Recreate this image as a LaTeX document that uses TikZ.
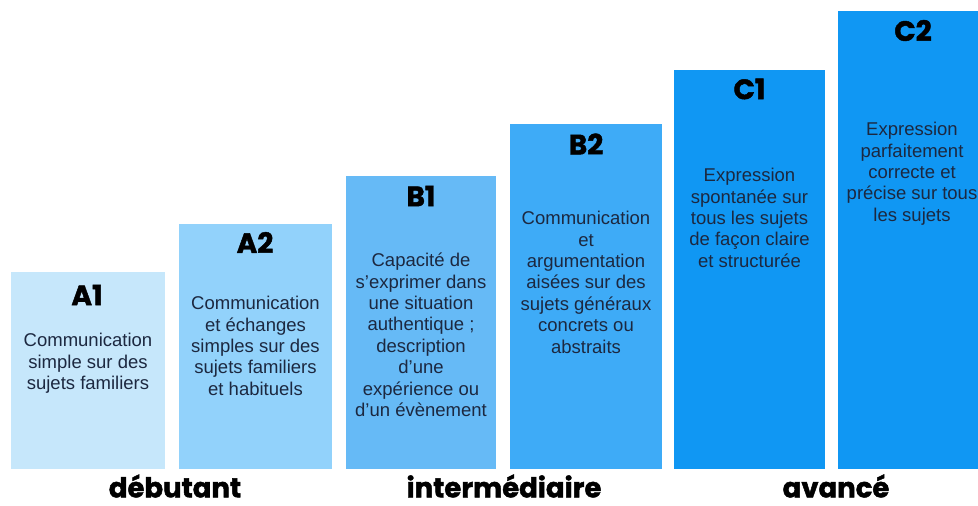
\documentclass[tikz,border=0pt]{standalone}
\usepackage{fontspec}
\setmainfont{Liberation Sans}
\newfontfamily\titlefont{Poppins}[BoldFeatures={FakeBold=1.6}]
\definecolor{cA1}{RGB}{198,231,251}
\definecolor{cA2}{RGB}{146,210,251}
\definecolor{cB1}{RGB}{102,186,246}
\definecolor{cB2}{RGB}{62,171,247}
\definecolor{cC1}{RGB}{16,151,243}
\definecolor{cC2}{RGB}{16,151,243}
\definecolor{txt}{RGB}{28,40,64}
\tikzset{
  levelbox/.style={draw=none, anchor=north west, minimum width=#1, inner sep=0pt},
  leveltitle/.style={font=\titlefont\bfseries\fontsize{28}{28}\selectfont, text=black, inner sep=0pt},
  desc/.style={font=\fontsize{18.5}{21.4}\selectfont, text=txt, align=center, inner sep=0pt},
  group/.style={font=\titlefont\bfseries\fontsize{27.5}{27.5}\selectfont, text=black, inner sep=0pt}
}
\begin{document}
\begin{tikzpicture}[x=1pt,y=-1pt]
\useasboundingbox (0,0) rectangle (978,506);
% boxes
\node[levelbox=154pt, fill=cA1, minimum height=197pt] (bA1) at (11,272) {};
\node[levelbox=153pt, fill=cA2, minimum height=245pt] (bA2) at (179,224) {};
\node[levelbox=150pt, fill=cB1, minimum height=293pt] (bB1) at (346,176) {};
\node[levelbox=152pt, fill=cB2, minimum height=345pt] (bB2) at (510,124) {};
\node[levelbox=151pt, fill=cC1, minimum height=399pt] (bC1) at (674,70) {};
\node[levelbox=152pt, fill=cC2, minimum height=458pt] (bC2) at (838,11) {};
% titles
\node[leveltitle] (tA1) at (87,295) {A1};
\node[leveltitle] (tA2) at (255,242.5) {A2};
\node[leveltitle] (tB1) at (421,196) {B1};
\node[leveltitle] (tB2) at (586,144) {B2};
\node[leveltitle] (tC1) at (749.5,89) {C1};
\node[leveltitle] (tC2) at (913,30.5) {C2};
% descriptions
\node[desc] (dA1) at (88,363.4) {Communication\\simple sur des\\sujets familiers};
\node[desc] (dA2) at (255.5,345.8) {Communication\\et échanges\\simples sur des\\sujets familiers\\et habituels};
\node[desc] (dB1) at (421,334.9) {Capacité de\\s’exprimer dans\\une situation\\authentique ;\\description\\d’une\\expérience ou\\d’un évènement};
\node[desc] (dB2) at (586,282.2) {Communication\\et\\argumentation\\aisées sur des\\sujets généraux\\concrets ou\\abstraits};
\node[desc] (dC1) at (749.5,217.8) {Expression\\spontanée sur\\tous les sujets\\de façon claire\\et structurée};
\node[desc] (dC2) at (912,173.8) {Expression\\parfaitement\\correcte et\\précise sur tous\\les sujets};
% group labels
\node[group] (gA) at (175,486) {débutant};
\node[group] (gB) at (504,486) {intermédiaire};
\node[group] (gC) at (836,486) {avancé};
\end{tikzpicture}
\end{document}
